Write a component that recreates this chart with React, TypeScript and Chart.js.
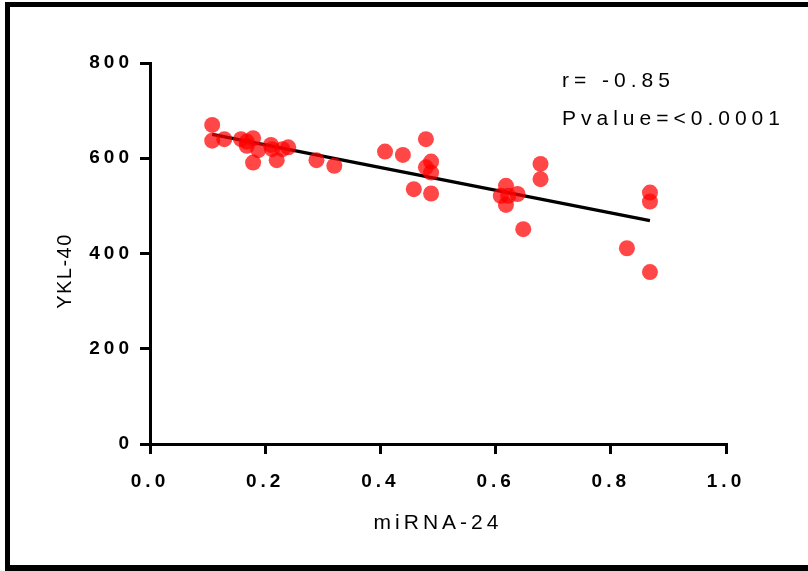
import React, { useEffect, useRef } from "react";
import { Chart, registerables } from "chart.js";

Chart.register(...registerables);

// miRNA-24 (x) vs YKL-40 (y)
const mirnaValues = [
  0.108, 0.108, 0.129, 0.158, 0.168, 0.179, 0.168, 0.188, 0.179, 0.21, 0.212, 0.22,
  0.23, 0.24, 0.289, 0.32, 0.408, 0.439, 0.479, 0.488, 0.479, 0.488, 0.458, 0.488,
  0.618, 0.609, 0.622, 0.638, 0.618, 0.648, 0.678, 0.678, 0.828, 0.868, 0.868, 0.868,
];
const ykl40Values = [
  670, 637, 640, 640, 635, 642, 626, 617, 591, 628, 619, 596,
  619, 623, 596, 584, 614, 607, 640, 593, 581, 570, 535, 526,
  542, 521, 521, 525, 502, 451, 588, 556, 411, 528, 509, 361,
];
// linear fit endpoints
const fitX = [0.108, 0.868];
const fitY = [650, 469];

const xTicks = [0, 0.2, 0.4, 0.6, 0.8, 1.0];
const yTicks = [0, 200, 400, 600, 800];
const statLines = ["r= -0.85", "Pvalue=<0.0001"];
const xTitle = "miRNA-24";
const yTitle = "YKL-40";

const FONT = "'Liberation Sans', Arial, sans-serif";

export default function App() {
  const ref = useRef<HTMLCanvasElement>(null);

  useEffect(() => {
    if (!ref.current) return;
    const framePlugin = {
      id: "frame",
      beforeDraw(chart: any) {
        const ctx = chart.ctx;
        ctx.save();
        ctx.fillStyle = "#fff";
        ctx.fillRect(0, 0, chart.width, chart.height);
        ctx.restore();
        ctx.letterSpacing = "4px";
      },
      afterDraw(chart: any) {
        const ctx = chart.ctx;
        ctx.save();
        ctx.fillStyle = "#000";
        ctx.fillRect(5, 2, chart.width, 5);
        ctx.fillRect(5, 2, 5, 569);
        ctx.fillRect(5, 565, chart.width, 6);
        // statistics annotation
        ctx.font = `21px ${FONT}`;
        ctx.letterSpacing = "5px";
        ctx.textBaseline = "middle";
        ctx.textAlign = "left";
        ctx.fillText(statLines[0], 562, 81);
        ctx.fillText(statLines[1], 562, 119);
        // y axis title
        ctx.font = `20px ${FONT}`;
        ctx.letterSpacing = "1.5px";
        ctx.textAlign = "center";
        ctx.translate(65, 271);
        ctx.rotate(-Math.PI / 2);
        ctx.fillText(yTitle, 0, 0);
        ctx.restore();
      },
    };

    const chart = new Chart(ref.current, {
      type: "scatter",
      data: {
        datasets: [
          {
            type: "scatter",
            data: mirnaValues.map((x, i) => ({ x, y: ykl40Values[i] })),
            backgroundColor: "rgba(255,0,0,0.72)",
            borderWidth: 0,
            pointRadius: 8,
            order: 0,
          },
          {
            type: "line",
            data: fitX.map((x, i) => ({ x, y: fitY[i] })),
            borderColor: "#000",
            borderWidth: 3.2,
            pointRadius: 0,
            showLine: true,
            fill: false,
            order: 1,
          } as any,
        ],
      },
      options: {
        animation: false,
        responsive: false,
        layout: { padding: { left: 0, top: 63, right: 82, bottom: 0 } },
        plugins: { legend: { display: false }, tooltip: { enabled: false } },
        scales: {
          x: {
            type: "linear",
            min: 0,
            max: 1,
            afterBuildTicks: (s: any) => {
              s.ticks = xTicks.map((v) => ({ value: v }));
            },
            afterFit: (s: any) => {
              s.height = 127;
            },
            ticks: {
              callback: (v: any) => Number(v).toFixed(1),
              font: { family: FONT, size: 19, weight: "bold" },
              color: "#000",
              padding: 16,
              maxRotation: 0,
            },
            grid: {
              drawOnChartArea: false,
              drawTicks: true,
              tickLength: 10,
              color: "#000",
              lineWidth: 3,
            },
            border: { display: true, color: "#000", width: 3 },
            title: {
              display: true,
              text: xTitle,
              font: { family: FONT, size: 21 },
              color: "#000",
              padding: { top: 0, bottom: 35 },
            },
          },
          y: {
            type: "linear",
            min: 0,
            max: 800,
            afterBuildTicks: (s: any) => {
              s.ticks = yTicks.map((v) => ({ value: v }));
            },
            afterFit: (s: any) => {
              s.width = 150;
            },
            ticks: {
              font: { family: FONT, size: 19, weight: "bold" },
              color: "#000",
              padding: 7,
            },
            grid: {
              drawOnChartArea: false,
              drawTicks: true,
              tickLength: 10,
              color: "#000",
              lineWidth: 3,
            },
            border: { display: true, color: "#000", width: 3 },
            title: { display: false, text: yTitle },
          },
        },
      },
      plugins: [framePlugin],
    });
    return () => chart.destroy();
  }, []);

  return (
    <div style={{ position: "absolute", left: 0, top: 0, width: 808, height: 571 }}>
      <canvas ref={ref} width={808} height={571} style={{ width: 808, height: 571, display: "block" }} />
    </div>
  );
}
